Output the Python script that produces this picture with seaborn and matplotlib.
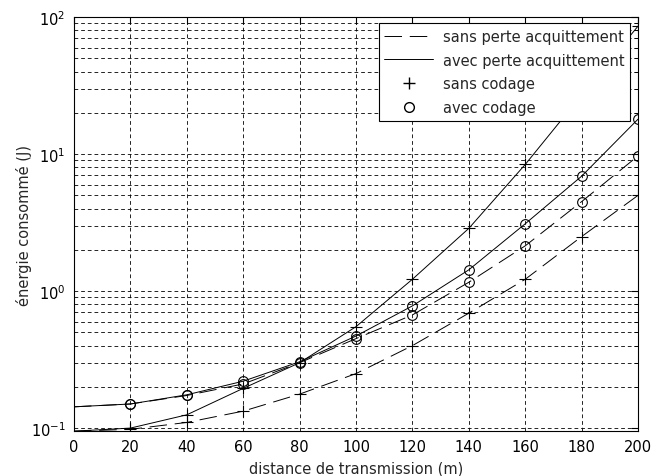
import numpy as np
import pandas as pd
import matplotlib
matplotlib.use('Agg')
import matplotlib.pyplot as plt
from matplotlib.lines import Line2D
from matplotlib.ticker import LogLocator, NullFormatter
import seaborn as sns

# distance (m) and energy (J)
distance = [0, 20, 40, 60, 80, 100, 120, 140, 160, 180, 200]
sans_perte_sans_codage = [0.095, 0.098, 0.110, 0.133, 0.177, 0.25, 0.40, 0.69, 1.22, 2.5, 5.0]
sans_perte_avec_codage = [0.143, 0.150, 0.173, 0.21, 0.30, 0.45, 0.67, 1.16, 2.14, 4.5, 9.7]
avec_perte_sans_codage = [0.095, 0.100, 0.125, 0.195, 0.30, 0.55, 1.22, 2.87, 8.4, 27.0, 86.0]
avec_perte_avec_codage = [0.143, 0.150, 0.175, 0.22, 0.305, 0.47, 0.78, 1.43, 3.1, 6.9, 18.0]

legend_labels = ['sans perte acquittement', 'avec perte acquittement', 'sans codage', 'avec codage']

sns.set_style('white')
plt.rcParams['font.family'] = ['DejaVu Sans']
plt.rcParams['font.size'] = 10.5

fig = plt.figure(figsize=(6.66, 4.77), dpi=100)
ax = fig.add_axes([0.111, 0.094, 0.847, 0.868])

dash = (0, (18, 8))
series = [
    (sans_perte_sans_codage, dash, '+'),
    (sans_perte_avec_codage, dash, 'o'),
    (avec_perte_sans_codage, '-', '+'),
    (avec_perte_avec_codage, '-', 'o'),
]
for vals, ls, mk in series:
    df = pd.DataFrame({'d': distance, 'e': vals})
    sns.lineplot(data=df, x='d', y='e', ax=ax, color='black', linewidth=0.7,
                 linestyle=ls, marker=mk, markevery=slice(1, None),
                 markersize=7 if mk == 'o' else 8, markerfacecolor='none',
                 markeredgecolor='black', markeredgewidth=0.8)

ax.set_yscale('log')
ax.set_xlim(0, 200)
ax.set_ylim(0.095, 100)
ax.set_xticks(range(0, 201, 20))
ax.yaxis.set_major_locator(LogLocator(base=10))
ax.yaxis.set_minor_locator(LogLocator(base=10, subs=np.arange(2, 10)))
ax.yaxis.set_minor_formatter(NullFormatter())

grid_ls = (0, (4.5, 3.5))
ax.grid(True, which='major', axis='both', color='black', linestyle=grid_ls, linewidth=0.6)
ax.grid(True, which='minor', axis='y', color='black', linestyle=grid_ls, linewidth=0.6)
ax.tick_params(which='both', direction='in', top=True, right=True, colors='black', labelsize=10.5, pad=6)
ax.tick_params(which='major', length=5)
ax.tick_params(which='minor', length=3)
for s in ax.spines.values():
    s.set_color('black')
    s.set_linewidth(0.8)

ax.set_xlabel('distance de transmission (m)', fontsize=10.5, labelpad=4)
ax.set_ylabel('énergie consommé (J)', fontsize=10.5, labelpad=-1)

handles = [
    Line2D([], [], color='black', linewidth=0.7, linestyle=dash),
    Line2D([], [], color='black', linewidth=0.7, linestyle='-'),
    Line2D([], [], color='black', linestyle='none', marker='+', markersize=8),
    Line2D([], [], color='black', linestyle='none', marker='o', markersize=7, markerfacecolor='none'),
]
leg = ax.legend(handles, legend_labels, loc='upper right', bbox_to_anchor=(0.986, 0.986),
                borderaxespad=0, fancybox=False, framealpha=1, edgecolor='black', fontsize=10.5,
                handlelength=3.35, handletextpad=0.65, borderpad=0.4, labelspacing=0.6)
leg.get_frame().set_linewidth(0.8)

fig.savefig('out.png', dpi=100)
